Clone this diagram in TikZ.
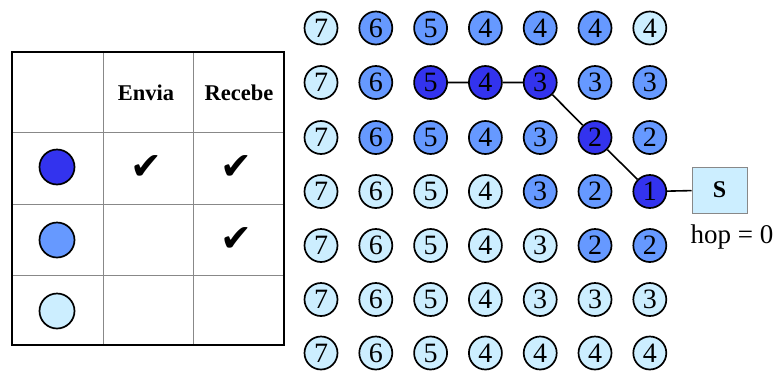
\documentclass[tikz,border=0pt]{standalone}
\usepackage{fontspec}
\setmainfont{Liberation Serif}
\newfontfamily\symfont{DejaVu Sans}
\definecolor{lite}{HTML}{CCEEFF}
\definecolor{mid}{HTML}{6699FF}
\definecolor{dark}{HTML}{3333EE}
\definecolor{gridgray}{HTML}{888888}
\tikzset{
  hopnode/.style={circle, draw=black, line width=1.7pt, minimum size=33pt, inner sep=0pt,
    font=\fontsize{28}{28}\selectfont},
  lt/.style={hopnode, fill=lite},
  md/.style={hopnode, fill=mid},
  dk/.style={hopnode, fill=dark},
  legcirc/.style={circle, draw=black, line width=1.7pt, minimum size=35pt, inner sep=0pt},
  headtxt/.style={font=\fontsize{22.5}{22.5}\selectfont\bfseries},
  checkmk/.style={font=\symfont\fontsize{38}{38}\selectfont},
  link/.style={line width=1.6pt},
}
\begin{document}
\begin{tikzpicture}[x=1pt,y=-1pt]
\useasboundingbox (0,0) rectangle (776,370);
% table
\draw[gridgray, line width=0.9pt] (103,52) -- (103,345) (193,52) -- (193,345)
  (12,132) -- (284,132) (12,204) -- (284,204) (12,275) -- (284,275);
\draw[line width=1.8pt] (12,52) rectangle (284,345);
\node[headtxt] (hE) at (146,93) {Envia};
\node[headtxt] (hR) at (239,93) {Recebe};
\node[legcirc, fill=dark] (l1) at (57,167) {};
\node[legcirc, fill=mid] (l2) at (57,240) {};
\node[legcirc, fill=lite] (l3) at (57,311) {};
\node[checkmk] (c1) at (146,168) {✔};
\node[checkmk] (c2) at (236,168) {✔};
\node[checkmk] (c3) at (236,240) {✔};
% grid
\foreach \v/\s [count=\c] in {7/lt,6/md,5/md,4/md,4/md,4/md,4/lt}
  \node[\s] (n1-\c) at ({321+54.8*(\c-1)},28) {\v};
\foreach \v/\s [count=\c] in {7/lt,6/md,5/dk,4/dk,3/dk,3/md,3/md}
  \node[\s] (n2-\c) at ({321+54.8*(\c-1)},82.5) {\v};
\foreach \v/\s [count=\c] in {7/lt,6/md,5/md,4/md,3/md,2/dk,2/md}
  \node[\s] (n3-\c) at ({321+54.8*(\c-1)},137.5) {\v};
\foreach \v/\s [count=\c] in {7/lt,6/lt,5/lt,4/lt,3/md,2/md,1/dk}
  \node[\s] (n4-\c) at ({321+54.8*(\c-1)},191.5) {\v};
\foreach \v/\s [count=\c] in {7/lt,6/lt,5/lt,4/lt,3/lt,2/md,2/md}
  \node[\s] (n5-\c) at ({321+54.8*(\c-1)},245.5) {\v};
\foreach \v/\s [count=\c] in {7/lt,6/lt,5/lt,4/lt,3/lt,3/lt,3/lt}
  \node[\s] (n6-\c) at ({321+54.8*(\c-1)},299.5) {\v};
\foreach \v/\s [count=\c] in {7/lt,6/lt,5/lt,4/lt,4/lt,4/lt,4/lt}
  \node[\s] (n7-\c) at ({321+54.8*(\c-1)},353) {\v};
% sink
\node[draw=gridgray, fill=lite, line width=1pt, minimum width=55pt, minimum height=46pt,
  font=\fontsize{24}{24}\selectfont\bfseries] (S) at (719.5,190) {S};
\node[font=\fontsize{27}{27}\selectfont] (hop) at (732,237) {hop = 0};
% path
\draw[link] (n2-3) -- (n2-4) -- (n2-5) -- (n3-6) -- (n4-7) -- (S);
\end{tikzpicture}
\end{document}
